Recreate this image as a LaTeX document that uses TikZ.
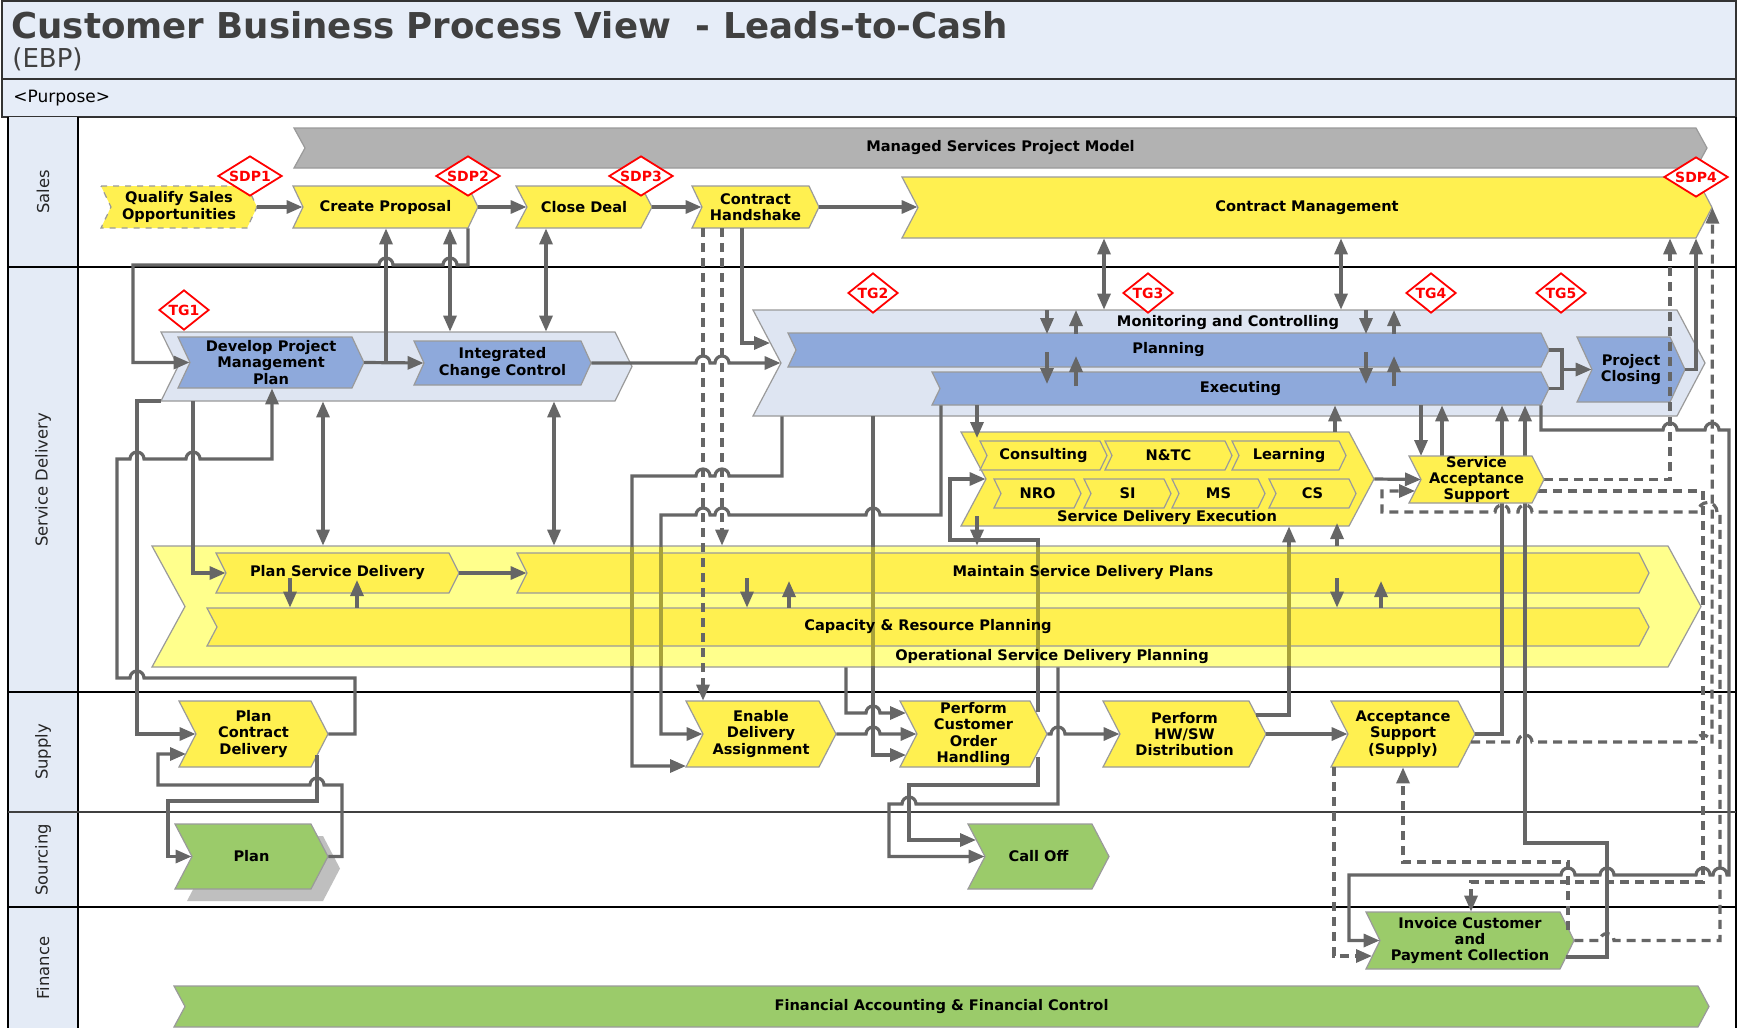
\documentclass[tikz,border=0pt]{standalone}
\usepackage{fontspec}
\setmainfont{DejaVu Sans}
\usepackage{graphicx}
\usetikzlibrary{arrows.meta,shapes.geometric}

\definecolor{hdr}{HTML}{E6EDF8}
\definecolor{lanec}{HTML}{E4EBF6}
\definecolor{cgray}{HTML}{666666}
\definecolor{bgray}{HTML}{9A9A9A}
\definecolor{ygl}{HTML}{FFF050}
\definecolor{lyel}{HTML}{FFFF8C}
\definecolor{blu}{HTML}{8EA9DB}
\definecolor{lblu}{HTML}{DEE5F2}
\definecolor{grn}{HTML}{9BCB6A}
\definecolor{gbar}{HTML}{B2B2B2}
\definecolor{olivl}{HTML}{A8A23A}
\definecolor{ttl}{HTML}{404040}

% name, style, x1, y1, x2, y2, notch/point depth, text
\newcommand\mychev[8]{%
 \path[shp,#2] (#3,#4) -- ({#5-#7},#4) -- (#5,{(#4+#6)/2}) -- ({#5-#7},#6) -- (#3,#6) -- ({#3+#7},{(#4+#6)/2}) -- cycle;
 \node[anchbox, minimum width={(#5-#3-#7)*0.5pt}, minimum height={(#6-#4)*0.5pt},
   label={[boxt,xshift={-#7*0.25pt}]center:{#8}}] (#1) at ({(#3+#7+#5)/2},{(#4+#6)/2}) {};}
\newcommand\hopR[2]{-- ({#1-7},#2) arc[start angle=180,end angle=360,radius=7]}
\newcommand\hopL[2]{-- ({#1+7},#2) arc[start angle=0,end angle=-180,radius=7]}

\tikzset{
 shp/.style={draw=bgray, line width=0.6pt},
 anchbox/.style={inner sep=0pt},
 boxt/.style={inner sep=0pt, align=center, font=\fontsize{7.3}{8.2}\selectfont\bfseries, text=black},
 conn/.style={draw=cgray, line width=1.6pt},
 arr/.style={conn, -{Triangle[length=8pt,width=6.5pt]}},
 darr/.style={conn, {Triangle[length=8pt,width=6.5pt]}-{Triangle[length=8pt,width=6.5pt]}},
 dsh/.style={dash pattern=on 4.5pt off 3pt},
 dia/.style={shape=diamond, draw=red, fill=white, line width=0.9pt, inner sep=0pt, aspect=1.6,
   minimum height=20pt, font=\fontsize{7}{8}\selectfont\bfseries, text=red},
 sdp/.style={dia, minimum width=32pt},
 tg/.style={dia, minimum width=25pt},
 lanel/.style={rotate=90, font=\fontsize{8.2}{10}\selectfont, text=black!85},
}

\begin{document}
\begin{tikzpicture}[x=0.5pt,y=-0.5pt]
\useasboundingbox (0,0) rectangle (1738,1028);
\fill[white] (0,0) rectangle (1738,1028);

% header
\fill[hdr] (2,1) rectangle (1736,117);
\draw[black!80, line width=0.8pt] (2,1) rectangle (1736,117);
\draw[black!80, line width=0.8pt] (2,79) -- (1736,79);
\node[anchor=west, inner sep=0pt, text=ttl, font=\fontsize{17.8}{20}\selectfont\bfseries] (title) at (11,25) {Customer Business Process View\ \ - Leads-to-Cash};
\node[anchor=west, inner sep=0pt, text=ttl, font=\fontsize{13}{15}\selectfont] (ebp) at (12,59) {(EBP)};
\node[anchor=west, inner sep=0pt, text=black, font=\fontsize{8.5}{10}\selectfont] (purp) at (13,98) {<Purpose>};

% lanes
\fill[lanec] (8,117) rectangle (78,1028);
\draw[black, line width=0.6pt] (8,117) -- (8,1028) (78,117) -- (78,1028) (1736,117) -- (1736,1028);
\foreach \yy in {267,692,907} \draw[black, line width=0.6pt] (8,\yy) -- (1736,\yy);
\draw[black!75, line width=1.1pt] (8,812) -- (1736,812);
\node[lanel] (lsales) at (43,192) {Sales};
\node[lanel] (lsd) at (43,480) {Service Delivery};
\node[lanel] (lsup) at (43,752) {Supply};
\node[lanel] (lsrc) at (43,860) {Sourcing};
\node[lanel] (lfin) at (43,968) {Finance};

% Sales shapes
\mychev{msp}{fill=gbar}{294}{128}{1707}{168}{11}{Managed Services Project Model}
\mychev{qual}{fill=ygl,dashed}{101}{186}{257}{228}{10}{Qualify Sales\\Opportunities}
\mychev{cp}{fill=ygl}{293}{186}{478}{228}{10}{Create Proposal}
\mychev{cd}{fill=ygl}{516}{186}{652}{228}{11}{Close Deal}
\mychev{ch}{fill=ygl}{692}{186}{819}{228}{10}{Contract\\Handshake}
\mychev{cm}{fill=ygl}{902}{177}{1712}{238}{16}{Contract Management}

% Service delivery shapes
\mychev{pmc}{fill=lblu}{161}{332}{632}{401}{17}{}
\mychev{dpmp}{fill=blu}{178}{337}{364}{388}{12}{Develop Project\\Management\\Plan}
\mychev{icc}{fill=blu}{414}{341}{591}{385}{10}{Integrated\\Change Control}
\mychev{mcc}{fill=lblu}{753}{310}{1705}{416}{28}{}
\node[boxt] (mcl) at (1228,323) {Monitoring and Controlling};
\mychev{plan}{fill=blu}{788}{333}{1549}{367}{8}{Planning}
\mychev{exe}{fill=blu}{932}{372}{1549}{405}{8}{Executing}
\mychev{pcl}{fill=blu}{1577}{337}{1685}{402}{15}{Project\\Closing}
\mychev{sde}{fill=ygl}{961}{432}{1374}{526}{25}{}
\node[boxt] (sdel) at (1167,518) {Service Delivery Execution};
\mychev{cons}{fill=ygl}{980}{441}{1107}{470}{7}{Consulting}
\mychev{ntc}{fill=ygl}{1105}{441}{1232}{470}{7}{N\&TC}
\mychev{lrn}{fill=ygl}{1232}{441}{1346}{470}{7}{Learning}
\mychev{nro}{fill=ygl}{994}{479}{1081}{508}{7}{NRO}
\mychev{si}{fill=ygl}{1084}{479}{1171}{508}{7}{SI}
\mychev{ms}{fill=ygl}{1172}{479}{1265}{508}{7}{MS}
\mychev{cs}{fill=ygl}{1269}{479}{1356}{508}{7}{CS}
\mychev{osdp}{fill=lyel}{152}{546}{1701}{667}{33}{}
\mychev{psd}{fill=ygl}{216}{553}{459}{593}{10}{Plan Service Delivery}
\mychev{msdp}{fill=ygl}{517}{553}{1649}{593}{10}{}
\mychev{crp}{fill=ygl}{207}{608}{1649}{646}{10}{}

% Supply
\mychev{pcd}{fill=ygl}{179}{701}{328}{767}{17}{Plan\\Contract\\Delivery}
\mychev{eda}{fill=ygl}{686}{701}{836}{767}{17}{Enable\\Delivery\\Assignment}
\mychev{coh}{fill=ygl}{900}{701}{1047}{767}{17}{Perform\\Customer\\Order\\Handling}
\mychev{hws}{fill=ygl}{1103}{701}{1266}{767}{17}{Perform\\HW/SW\\Distribution}
\mychev{asup}{fill=ygl}{1331}{701}{1475}{767}{17}{Acceptance\\Support\\(Supply)}

% Sourcing
\mychev{plshadow}{fill=black!25,draw=none}{187}{836}{340}{901}{17}{}
\mychev{plansrc}{fill=grn}{175}{824}{328}{889}{17}{Plan}
\mychev{calloff}{fill=grn}{968}{824}{1109}{889}{17}{Call Off}

% Finance
\mychev{inv}{fill=grn}{1366}{912}{1574}{969}{14}{Invoice Customer\\and\\Payment Collection}
\mychev{fac}{fill=grn}{174}{986}{1709}{1027}{11}{Financial Accounting \& Financial Control}

% anchor points of the service acceptance box (box drawn later, over the lines)
\coordinate (sasE) at (1544,479.5);
\coordinate (sasW) at (1421,479.5);

% ---------------- connectors ----------------
\draw[arr] (qual.east) -- (cp.west);
\draw[arr] (cp.east) -- (cd.west);
\draw[arr] (cd.east) -- (ch.west);
\draw[arr] (ch.east) -- (ch.east -| cm.west);
\draw[arr] (cp.south -| 468,0) -- (468,265) \hopL{450}{265} \hopL{386}{265} -- (133,265) |- (dpmp.west);
\draw[arr] (dpmp.east) -| (cp.south -| 386,0);
\draw[arr] (dpmp.east) -- (icc.west);
\draw[darr] (cp.south -| 450,0) -- (pmc.north -| 450,0);
\draw[darr] (cd.south -| 546,0) -- (pmc.north -| 546,0);
\draw[arr] (icc.east) \hopR{703}{363} \hopR{722}{363} -- (mcc.west);
\draw[arr] (ch.south -| 742,0) |- (770,343);
\draw[arr,dsh] (ch.south -| 722,0) -- (osdp.north -| 722,0);
\draw[arr,dsh] (ch.south -| 703,0) -- (eda.north -| 703,0);
\draw[darr] (cm.south -| 1104,0) -- (mcc.north -| 1104,0);
\draw[darr] (cm.south -| 1341,0) -- (mcc.north -| 1341,0);
\foreach \xa/\xb in {1047/1076,1366/1394} {
  \draw[arr] (\xa,310) -- (\xa,334);
  \draw[arr] (\xb,334) -- (\xb,310);
  \draw[arr] (\xa,352) -- (\xa,384);
  \draw[arr] (\xb,386) -- (\xb,356);
}
\draw[conn] (plan.east) -| (1562,388.5) -- (exe.east);
\draw[arr] (1562,369.5) -- (pcl.west);
\draw[arr] (pcl.east) -| (cm.south -| 1696,0);
\draw[arr,dsh] (sasE) -| (cm.south -| 1670,0);
\draw[arr] (sde.east) -- (sasW);
\draw[arr] (exe.south -| 1421,0) -- (1421,456);
\draw[arr] (1442,456) -- (exe.south -| 1442,0);
\draw[arr] (sde.north -| 1335,0) -- (exe.south -| 1335,0);
\draw[arr] (exe.south -| 977,0) -- (977,438);
\draw[arr] (977,516) -- (osdp.north -| 977,0);
\draw[arr] (osdp.north -| 1337,0) -- (1337,523);
\draw[arr] (1256,715) -| (sde.south -| 1289,0);
\draw[arr] (1038,712) -- (1038,540) -| (950,479) -- (sde.west);
\draw[arr] (1038,757) -- (1038,785) -| (909,840) -- (976,840);
\draw[arr] (osdp.south -| 1058,0) -- (1058,804) \hopL{909}{804} -- (889,804) |- (calloff.west);
\draw[arr] (mcc.south -| 782,0) -- (782,476) \hopL{722}{476} \hopL{703}{476} -- (632,476) |- (686,766);
\draw[arr] (mcc.south -| 873,0) |- (906,755);
\draw[arr] (exe.south -| 941,0) -- (941,515) \hopL{873}{515} \hopL{722}{515} \hopL{703}{515} -- (661,515) |- (eda.west);
\draw[arr] (osdp.south -| 846,0) -- (846,713) \hopR{873}{713} -- (906,713);
\draw[arr] (eda.east) \hopR{873}{734} -- (coh.west);
\draw[arr] (coh.east) \hopR{1058}{734} -- (hws.west);
\draw[arr] (hws.east) -- (asup.west);
\draw[arr] (161,401) -- (137,401) |- (pcd.west);
\draw[arr] (pmc.south -| 193,0) |- (psd.west);
\draw[arr] (pcd.east) -- (355,734) -- (355,678) \hopL{137}{678} -- (117,678) -- (117,459) \hopR{137}{459} \hopR{193}{459} -- (272,459) -- (dpmp.south -| 272,0);
\draw[darr] (pmc.south -| 323,0) -- (osdp.north -| 323,0);
\draw[darr] (pmc.south -| 554,0) -- (osdp.north -| 554,0);
\draw[arr] (psd.east) -- (msdp.west);
\draw[arr] (290,578) -- (crp.north -| 290,0);
\draw[arr] (crp.north -| 357,0) -- (357,580);
\draw[arr] (747,578) -- (crp.north -| 747,0);
\draw[arr] (crp.north -| 789,0) -- (789,581);
\draw[arr] (1337,578) -- (crp.north -| 1337,0);
\draw[arr] (crp.north -| 1381,0) -- (1381,581);
\draw[arr] (317,755) -- (317,801) -| (168,856.5) -- (plansrc.west);
\draw[arr] (plansrc.east) -- (342,856.5) -- (342,785) \hopL{317}{785} -- (158,785) |- (186,754);
\draw[arr] (asup.east) -| (exe.south -| 1502,0);
\draw[arr] (exe.south -| 1541,0) -- (1541,430) \hopR{1670}{430} \hopR{1712}{430} -- (1729,430) -- (1729,875) \hopL{1720}{875} \hopL{1703}{875} \hopL{1607}{875} \hopL{1568}{875} -- (1349,875) |- (inv.west);
\draw[arr] (1566,957) -- (1607,957) -- (1607,843) -- (1525,843) -- (exe.south -| 1525,0);
\draw[arr,dsh] (1538,491) -- (1703,491) -- (1703,882) -- (1471,882) -- (inv.north -| 1471,0);
\draw[arr,dsh] (inv.east) \hopR{1607}{940.5} -- (1720,940.5) -- (1720,512) -- (1717,512) arc[start angle=0,end angle=-180,radius=9.5] \hopL{1525}{512} \hopL{1502}{512} -- (1382,512) -- (1382,491) -- (1415,491);
\draw[arr,dsh] (1568,930) -- (1568,862) -| (asup.south -| 1403,0);
\draw[arr,dsh] (asup.south -| 1334,0) |- (1372,956);
\draw[arr,dsh] (1471,742) \hopR{1525}{742} \hopR{1703}{742} -- (1712,742) -- (cm.east);

% lines seen through the planning band
\foreach \xx in {632,661,873,1038,1289} \draw[conn,draw=olivl] (\xx,547) -- (\xx,666);
\node[boxt] (msdpt) at (1083,573) {Maintain Service Delivery Plans};
\node[boxt] (crpt) at (928,627) {Capacity \& Resource Planning};
\node[boxt] (osdpl) at (1052,657) {Operational Service Delivery Planning};

% service acceptance support drawn over the lines behind it
\mychev{sas}{fill=ygl}{1409}{456}{1544}{503}{12}{Service\\Acceptance\\Support}

% gates
\node[sdp] (sdp1) at (250,176) {SDP1};
\node[sdp] (sdp2) at (468,176) {SDP2};
\node[sdp] (sdp3) at (641,176) {SDP3};
\node[sdp] (sdp4) at (1696,177) {SDP4};
\node[tg] (tg1) at (184,310) {TG1};
\node[tg] (tg2) at (873,293) {TG2};
\node[tg] (tg3) at (1148,293) {TG3};
\node[tg] (tg4) at (1431,293) {TG4};
\node[tg] (tg5) at (1561,293) {TG5};
\end{tikzpicture}
\end{document}
